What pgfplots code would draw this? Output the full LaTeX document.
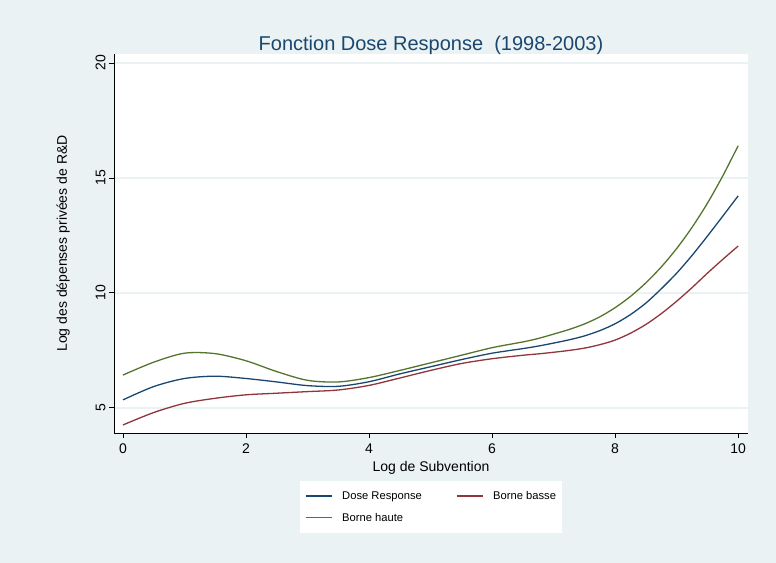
\documentclass[border=0pt]{standalone}
\usepackage{fontspec}
\setmainfont{Liberation Sans}
\usepackage{pgfplots}
\pgfplotsset{compat=1.18}
\definecolor{bgc}{RGB}{234,242,243}
\definecolor{navy}{HTML}{1A476F}
\definecolor{maroon}{HTML}{90353B}
\definecolor{forest}{HTML}{55752F}
\begin{document}
\begin{tikzpicture}
\fill[bgc] (0,0) rectangle (776bp,563bp);
\begin{axis}[
  at={(114bp,130bp)}, anchor=south west,
  scale only axis, width=634bp, height=379bp,
  xmin=-0.146, xmax=10.16, ymin=3.91, ymax=20.39,
  axis background/.style={fill=white},
  axis lines=left, axis line style={-, line width=0.9bp, black},
  xtick={0,2,4,6,8,10}, ytick={5,10,15,20},
  tick align=outside, major tick length=5bp,
  tick style={line width=0.9bp, black},
  ticklabel style={font=\fontsize{14bp}{16bp}\selectfont},
  xticklabel style={yshift=-2bp},
  yticklabel style={rotate=90, anchor=south},
  /pgf/number format/assume math mode=true,
  ymajorgrids, grid style={bgc, line width=1.6bp},
  xlabel={Log de Subvention},
  ylabel={Log des dépenses privées de R\&D},
  label style={font=\fontsize{14bp}{16bp}\selectfont},
  xlabel style={yshift=-1bp},
  ylabel style={yshift=19bp},
  title={Fonction Dose Response\ \ (1998-2003)},
  title style={font=\fontsize{20bp}{22bp}\selectfont, text=navy, at={(0.5,1)}, anchor=base, yshift=-2bp},
  legend columns=2,
  legend style={at={(0.5,-0.127)}, anchor=north, draw=none, fill=white,
    font=\fontsize{11.2bp}{13bp}\selectfont, inner xsep=5bp, inner ysep=8bp,
    nodes={inner xsep=1bp},
    /tikz/every odd column/.append style={column sep=9bp},
    /tikz/every even column/.append style={column sep=33bp},
    row sep=8bp},
  legend image code/.code={\draw[#1] (0bp,0bp) -- (26bp,0bp);},
  legend cell align=left,
  every axis plot/.append style={line width=1.3bp, smooth},
]
\addplot[navy] coordinates {
(0,5.35) (0.5,5.93) (1.0,6.28) (1.5,6.38) (2.0,6.28) (2.5,6.13) (3.0,5.97) (3.5,5.94)
(4.0,6.14) (4.5,6.48) (5.0,6.79) (5.5,7.10) (6.0,7.38) (6.5,7.58)
(6.75,7.69) (7.0,7.82) (7.25,7.96) (7.5,8.13) (7.75,8.36) (8.0,8.66) (8.25,9.06)
(8.5,9.56) (8.75,10.18) (9.0,10.86) (9.25,11.63) (9.5,12.47) (9.75,13.34) (10,14.22)};
\addlegendentry{Dose Response}
\addplot[maroon] coordinates {
(0,4.26) (0.5,4.80) (1.0,5.20) (1.5,5.42) (2.0,5.57) (2.5,5.64) (3.0,5.71) (3.5,5.78)
(4.0,5.98) (4.5,6.30) (5.0,6.63) (5.5,6.93) (6.0,7.14) (6.5,7.29)
(6.75,7.35) (7.0,7.42) (7.25,7.50) (7.5,7.60) (7.75,7.75) (8.0,7.95) (8.25,8.25)
(8.5,8.63) (8.75,9.10) (9.0,9.64) (9.25,10.23) (9.5,10.86) (9.75,11.46) (10,12.04)};
\addlegendentry{Borne basse}
\addplot[forest] coordinates {
(0,6.43) (0.5,6.99) (1.0,7.38) (1.5,7.36) (2.0,7.05) (2.5,6.58) (3.0,6.20) (3.5,6.13)
(4.0,6.32) (4.5,6.63) (5.0,6.96) (5.5,7.29) (6.0,7.62) (6.5,7.87)
(6.75,8.02) (7.0,8.21) (7.25,8.41) (7.5,8.65) (7.75,8.96) (8.0,9.36) (8.25,9.85)
(8.5,10.44) (8.75,11.13) (9.0,11.93) (9.25,12.85) (9.5,13.90) (9.75,15.09) (10,16.40)};
\addlegendentry{Borne haute}
\end{axis}
\end{tikzpicture}
\end{document}
